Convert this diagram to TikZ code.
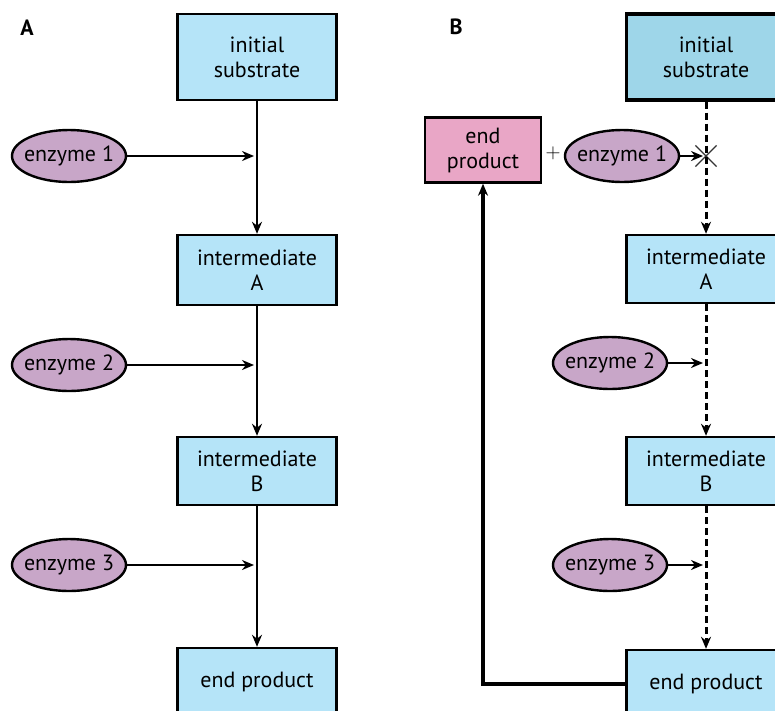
\documentclass[tikz,border=0pt]{standalone}
\usepackage{fontspec}
\setmainfont{PT Sans}
\usetikzlibrary{positioning, arrows.meta, shapes.geometric, shapes.misc}

\definecolor{boxblue}{RGB}{181,228,248}
\definecolor{boxdark}{RGB}{158,214,233}
\definecolor{enzpurple}{RGB}{200,166,200}
\definecolor{endpink}{RGB}{233,166,198}

\begin{document}
\begin{tikzpicture}[
    x=1pt, y=-1pt,
    every node/.style={font=\fontsize{22}{25}\selectfont, align=center},
    box/.style={draw, line width=2.4pt, fill=boxblue, minimum width=159pt, minimum height=68pt, inner sep=0pt},
    topbox/.style={box, minimum height=86pt},
    enzyme/.style={ellipse, draw, line width=2.4pt, fill=enzpurple, minimum width=114pt, minimum height=52pt, inner xsep=-6pt, inner ysep=0pt},
    panel/.style={font=\fontsize{22}{24}\selectfont\bfseries},
    arr/.style={line width=2.2pt, -{Stealth[length=12pt, width=10pt]}},
    feed/.style={arr, shorten >=3pt},
    blocked/.style={arr, line width=3pt, dash pattern=on 7pt off 4pt},
    back/.style={line width=3.2pt, -{Stealth[length=12pt, width=10pt]}},
]
\useasboundingbox (0,0) rectangle (775,710);
\clip (0,0) rectangle (775,710);

% panel A
\node[panel] (labA) at (27,28) {A};
\node[topbox] (lsub) at (257,57) {initial\\substrate};
\node[box, minimum height=70pt] (lintA) at (257,270) {intermediate\\A};
\node[box] (lintB) at (257,471) {intermediate\\B};
\node[box] (lprod) at (257,682) {end product};
\node[enzyme] (lenz1) at (69,156) {enzyme 1};
\node[enzyme] (lenz2) at (69,365) {enzyme 2};
\node[enzyme] (lenz3) at (69,565) {enzyme 3};

\draw[arr] (lsub) -- (lintA);
\draw[arr] (lintA) -- (lintB);
\draw[arr] (lintB) -- (lprod);
\draw[feed] (lenz1) -- (lenz1 -| lsub);
\draw[feed] (lenz2) -- (lenz2 -| lsub);
\draw[feed] (lenz3) -- (lenz3 -| lsub);

% panel B
\node[panel] (labB) at (456,27) {B};
\node[topbox, fill=boxdark, line width=3.2pt] (rsub) at (706,57) {initial\\substrate};
\node[box] (rintA) at (706,269) {intermediate\\A};
\node[box] (rintB) at (706,471) {intermediate\\B};
\node[box] (rprod) at (706,684) {end product};
\node[box, fill=endpink, minimum width=116pt, minimum height=65pt] (rend) at (483,150) {end\\product};
\node (plus) at (553,153) {$+$};
\node[enzyme] (renz1) at (622,156) {enzyme 1};
\node[enzyme] (renz2) at (610,363) {enzyme 2};
\node[enzyme] (renz3) at (610,565) {enzyme 3};
\node[cross out, draw=black!80, line width=1.2pt, minimum size=20pt] (rblock) at (706,156) {};

\draw[blocked] (rsub) -- (rintA);
\draw[blocked] (rintA) -- (rintB);
\draw[blocked] (rintB) -- (rprod);
\draw[feed] (renz1) -- (rblock.center);
\draw[feed] (renz2) -- (renz2 -| rsub);
\draw[feed] (renz3) -- (renz3 -| rsub);
\draw[back] (rprod.west) -| (rend.south);
\end{tikzpicture}
\end{document}
